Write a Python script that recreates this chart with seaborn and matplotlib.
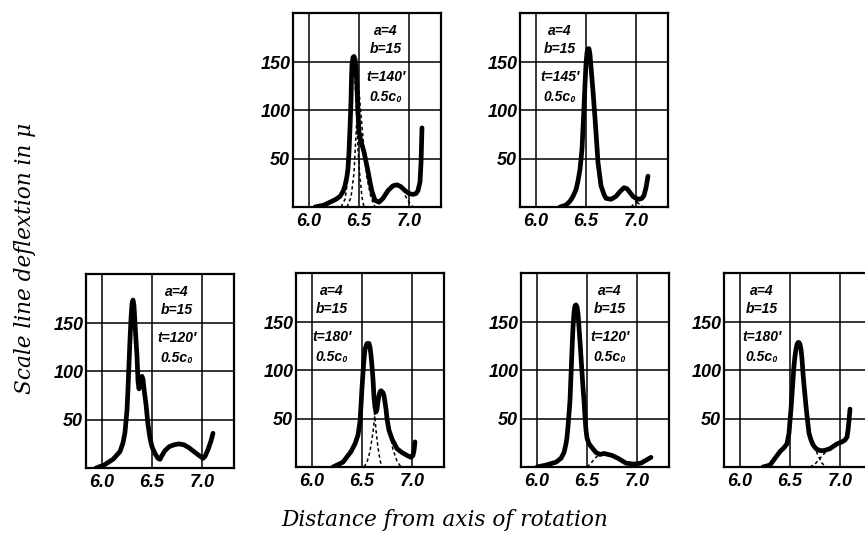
import matplotlib
matplotlib.use("Agg")
import matplotlib.pyplot as plt
import seaborn as sns
import pandas as pd

sns.set_theme(style="white")
plt.rcParams['font.family'] = ['Liberation Sans', 'DejaVu Sans']

W, H = 865, 536

# ---------------- data ----------------
x_ticks = [6.0, 6.5, 7.0]
x_tick_labels = ["6.0", "6.5", "7.0"]
y_ticks = [50, 100, 150]
y_tick_labels = ["50", "100", "150"]

label_a = "a=4"
label_b = "b=15"
conc_label = "0.5c₀"

# Panel 1 (top, t=140')
p1_time = "t=140′"
p1_x = [6.06, 6.15, 6.21, 6.27, 6.31, 6.34, 6.36, 6.38, 6.39, 6.40, 6.41, 6.42, 6.425, 6.43, 6.44,
        6.45, 6.46, 6.47, 6.48, 6.49, 6.50, 6.52, 6.55, 6.57, 6.59, 6.61, 6.63, 6.66, 6.70, 6.74,
        6.79, 6.84, 6.88, 6.92, 6.96, 7.00, 7.04, 7.07, 7.09, 7.11, 7.12, 7.13]
p1_y = [0, 2, 5, 8, 11, 16, 22, 32, 40, 57, 82, 110, 134, 148, 155,
        156, 153, 145, 124, 99, 78, 68, 57, 47, 37, 26, 16, 7, 5, 9,
        17, 22, 23, 21, 17, 14, 13, 14, 17, 26, 45, 82]
p1_d1_x = [6.32, 6.36, 6.39, 6.41, 6.43, 6.45, 6.47, 6.49, 6.51, 6.53, 6.55]
p1_d1_y = [0, 8, 30, 80, 135, 150, 110, 60, 30, 10, 0]
p1_d2_x = [6.38, 6.42, 6.45, 6.47, 6.49, 6.50, 6.52, 6.55, 6.58, 6.62, 6.66]
p1_d2_y = [0, 10, 35, 75, 112, 120, 95, 60, 30, 10, 0]
p1_d3_x = [6.96, 7.00, 7.04]
p1_d3_y = [12, 5, 0]

# Panel 2 (top, t=145')
p2_time = "t=145′"
p2_x = [6.24, 6.30, 6.34, 6.37, 6.40, 6.42, 6.44, 6.46, 6.47, 6.48, 6.49, 6.50, 6.51, 6.52, 6.53,
        6.54, 6.55, 6.57, 6.59, 6.61, 6.62, 6.64, 6.65, 6.68, 6.70, 6.75, 6.80, 6.84, 6.88, 6.91,
        6.94, 6.97, 7.00, 7.03, 7.06, 7.08, 7.10, 7.11, 7.12]
p2_y = [0, 2, 6, 11, 18, 27, 39, 60, 81, 104, 127, 148, 160, 164, 164,
        158, 145, 120, 92, 62, 46, 30, 22, 13, 9, 8, 11, 16, 20, 19,
        15, 11, 9, 8, 9, 12, 20, 26, 32]
p2_d1_x = [6.95, 7.00, 7.05]
p2_d1_y = [0, 5, 10]
p2_d2_x = [6.97, 7.02, 7.07]
p2_d2_y = [10, 4, 0]

# Panel 3 (bottom, t=120')
p3_time = "t=120′"
p3_x = [5.94, 6.02, 6.11, 6.18, 6.21, 6.23, 6.25, 6.26, 6.27, 6.28, 6.29, 6.30, 6.31, 6.32, 6.33,
        6.34, 6.35, 6.36, 6.37, 6.38, 6.39, 6.40, 6.41, 6.42, 6.44, 6.46, 6.48, 6.50, 6.53, 6.56,
        6.58, 6.60, 6.63, 6.67, 6.72, 6.77, 6.82, 6.87, 6.92, 6.97, 7.01, 7.03, 7.06, 7.09, 7.11]
p3_y = [0, 3, 9, 17, 26, 37, 60, 82, 108, 133, 155, 170, 174, 168, 150,
        132, 116, 90, 82, 88, 93, 95, 92, 82, 66, 45, 31, 22, 15, 10,
        9, 13, 18, 22, 24, 25, 24, 21, 17, 13, 10, 12, 19, 28, 36]

# Panel 4 (bottom, t=180')
p4_time = "t=180′"
p4_x = [6.21, 6.31, 6.39, 6.43, 6.46, 6.48, 6.49, 6.50, 6.51, 6.52, 6.53, 6.55, 6.57, 6.58, 6.59,
        6.60, 6.61, 6.62, 6.63, 6.64, 6.65, 6.66, 6.67, 6.68, 6.69, 6.70, 6.71, 6.72, 6.74, 6.75,
        6.77, 6.80, 6.85, 6.90, 6.95, 6.99, 7.01, 7.02, 7.03]
p4_y = [0, 5, 16, 24, 33, 47, 64, 82, 98, 112, 122, 128, 128, 124, 116,
        104, 91, 72, 62, 57, 60, 68, 74, 78, 79, 78, 77, 74, 60, 50,
        38, 29, 19, 15, 12, 10, 12, 17, 26]
p4_d1_x = [6.60, 6.62, 6.64, 6.66, 6.68, 6.70]
p4_d1_y = [95, 62, 38, 20, 7, 0]
p4_d2_x = [6.52, 6.55, 6.58, 6.61, 6.63]
p4_d2_y = [0, 5, 16, 36, 55]
p4_d3_x = [6.77, 6.81, 6.85, 6.89]
p4_d3_y = [40, 18, 6, 0]

# Panel 5 (bottom, t=120')
p5_time = "t=120′"
p5_x = [6.00, 6.09, 6.19, 6.24, 6.27, 6.29, 6.30, 6.31, 6.32, 6.33, 6.34, 6.35, 6.36, 6.37, 6.38,
        6.39, 6.40, 6.41, 6.42, 6.43, 6.44, 6.45, 6.46, 6.47, 6.48, 6.49, 6.50, 6.52, 6.55, 6.59,
        6.63, 6.67, 6.71, 6.75, 6.81, 6.89, 6.97, 7.04, 7.09, 7.14]
p5_y = [0, 2, 5, 9, 15, 24, 31, 42, 55, 69, 95, 121, 145, 160, 167,
        168, 166, 159, 145, 130, 114, 98, 82, 69, 52, 38, 30, 24, 20, 15,
        13, 14, 13, 12, 9, 4, 3, 4, 7, 10]
p5_d1_x = [6.50, 6.54, 6.58, 6.62]
p5_d1_y = [0, 4, 9, 13]

# Panel 6 (bottom, t=180')
p6_time = "t=180′"
p6_x = [6.23, 6.30, 6.35, 6.40, 6.44, 6.47, 6.49, 6.50, 6.51, 6.52, 6.53, 6.54, 6.55, 6.56, 6.57,
        6.58, 6.59, 6.60, 6.61, 6.62, 6.63, 6.64, 6.65, 6.66, 6.67, 6.69, 6.71, 6.73, 6.76, 6.80,
        6.84, 6.90, 6.97, 7.02, 7.05, 7.07, 7.08, 7.09, 7.10]
p6_y = [0, 2, 9, 16, 20, 24, 35, 48, 60, 75, 90, 105, 115, 122, 127,
        129, 129, 127, 122, 112, 97, 85, 74, 63, 53, 35, 28, 23, 19, 17,
        17, 19, 24, 26, 28, 31, 38, 48, 60]
p6_d1_x = [6.74, 6.78, 6.82, 6.86]
p6_d1_y = [22, 12, 4, 0]
p6_d2_x = [6.70, 6.75, 6.80, 6.86, 6.90]
p6_d2_y = [0, 3, 9, 16, 19]

# ---------------- layout (pixel positions of each frame) ----------------
panels = [
    dict(left=293, top=13, time=p1_time, x=p1_x, y=p1_y, tx=6.77,
         dashed=[(p1_d1_x, p1_d1_y), (p1_d2_x, p1_d2_y), (p1_d3_x, p1_d3_y)]),
    dict(left=520, top=13, time=p2_time, x=p2_x, y=p2_y, tx=6.24,
         dashed=[(p2_d1_x, p2_d1_y), (p2_d2_x, p2_d2_y)]),
    dict(left=86, top=274, time=p3_time, x=p3_x, y=p3_y, tx=6.75, dashed=[]),
    dict(left=296, top=273, time=p4_time, x=p4_x, y=p4_y, tx=6.20,
         dashed=[(p4_d1_x, p4_d1_y), (p4_d2_x, p4_d2_y), (p4_d3_x, p4_d3_y)]),
    dict(left=521, top=273, time=p5_time, x=p5_x, y=p5_y, tx=6.73,
         dashed=[(p5_d1_x, p5_d1_y)]),
    dict(left=724, top=273, time=p6_time, x=p6_x, y=p6_y, tx=6.22,
         dashed=[(p6_d1_x, p6_d1_y), (p6_d2_x, p6_d2_y)]),
]
AX_W, AX_H = 148, 194
XLIM = (5.84, 7.32)
YLIM = (0, 201)

fig = plt.figure(figsize=(W / 100, H / 100), dpi=100)
fig.patch.set_facecolor("white")

tick_font = dict(fontsize=13, fontweight="bold", fontstyle="italic")
ann_font = dict(fontsize=10, fontweight="bold", fontstyle="italic",
                ha="center", va="center", color="black")

for p in panels:
    rect = [p["left"] / W, 1 - (p["top"] + AX_H) / H, AX_W / W, AX_H / H]
    ax = fig.add_axes(rect)
    ax.set_facecolor("white")
    ax.set_xlim(*XLIM)
    ax.set_ylim(*YLIM)
    ax.set_xticks(x_ticks)
    ax.set_xticklabels(x_tick_labels, **tick_font)
    ax.set_yticks(y_ticks)
    ax.set_yticklabels(y_tick_labels, **tick_font)
    ax.tick_params(length=0, pad=4, colors="black")
    ax.tick_params(axis="y", pad=2)
    ax.grid(True, color="black", linewidth=1.1)
    ax.set_axisbelow(True)
    for s in ax.spines.values():
        s.set_visible(True)
        s.set_color("black")
        s.set_linewidth(1.6)

    df = pd.DataFrame({"x": p["x"], "y": p["y"]})
    sns.lineplot(data=df, x="x", y="y", ax=ax, color="black", linewidth=3.4,
                 sort=False, zorder=4, solid_capstyle="round", solid_joinstyle="round")
    for dx, dy in p["dashed"]:
        dd = pd.DataFrame({"x": dx, "y": dy})
        sns.lineplot(data=dd, x="x", y="y", ax=ax, color="black", linewidth=1.1,
                     sort=False, zorder=3, linestyle=(0, (2.2, 1.8)))
    ax.set_xlabel("")
    ax.set_ylabel("")

    ax.text(p["tx"], 182, label_a, **ann_font)
    ax.text(p["tx"], 164, label_b, **ann_font)
    ax.text(p["tx"], 135, p["time"], **ann_font)
    ax.text(p["tx"], 114, conc_label, **ann_font)

fig.text(25 / W, 1 - 258 / H, "Scale line deflextion in μ", rotation=90,
         ha="center", va="center", fontsize=15.6, fontstyle="italic",
         family=["DejaVu Serif"], color="black")
fig.text(445 / W, 1 - 520 / H, "Distance from axis of rotation",
         ha="center", va="center", fontsize=15.6, fontstyle="italic",
         family=["DejaVu Serif"], color="black")

fig.savefig("out.png", dpi=100, facecolor="white")
